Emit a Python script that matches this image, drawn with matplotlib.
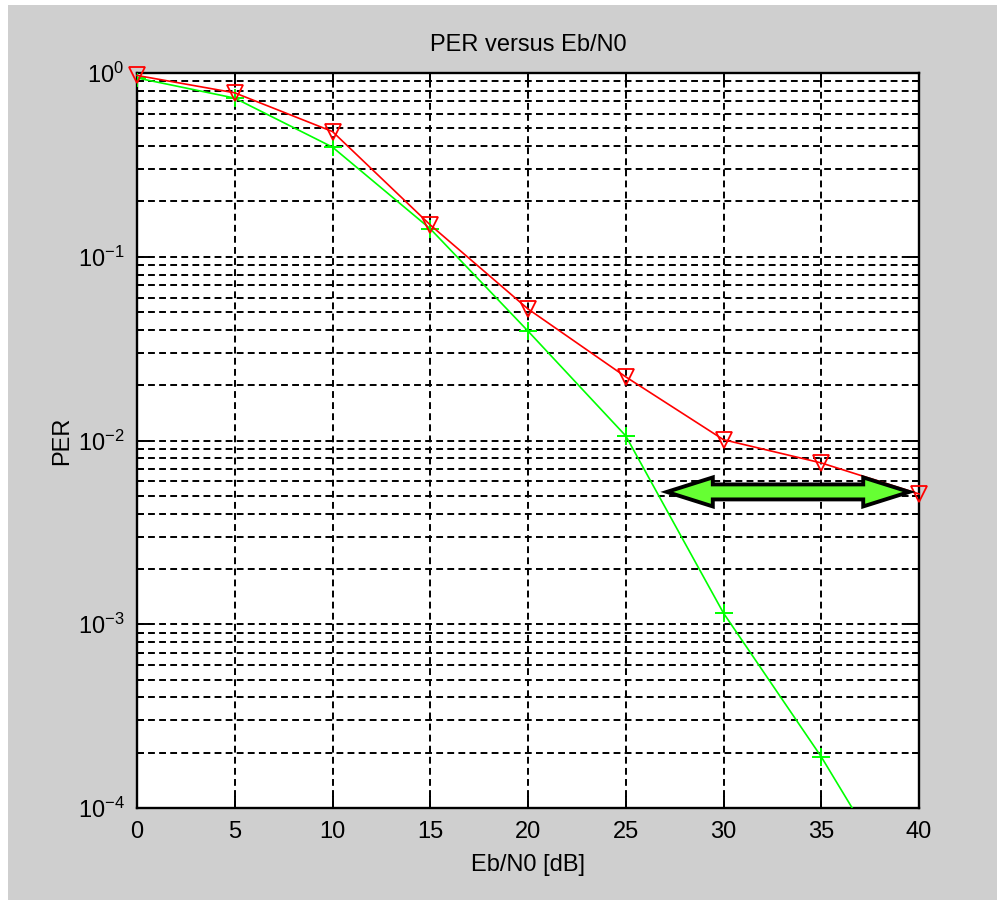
import matplotlib
matplotlib.use('Agg')
import matplotlib.pyplot as plt
from matplotlib.patches import Polygon, Rectangle
from matplotlib.ticker import LogLocator, NullFormatter
import numpy as np

plt.rcParams['font.family'] = ['Liberation Sans', 'DejaVu Sans']
plt.rcParams['mathtext.fontset'] = 'custom'
plt.rcParams['mathtext.rm'] = 'Liberation Sans'
plt.rcParams['mathtext.it'] = 'Liberation Sans'

# data
ebn0 = [0, 5, 10, 15, 20, 25, 30, 35, 40]
per_red = [0.97, 0.78, 0.48, 0.149, 0.052, 0.0222, 0.0101, 0.00755, 0.00512]
per_green = [0.94, 0.73, 0.395, 0.142, 0.0394, 0.0106, 0.00115, 0.00019, 0.000025]
x_ticks = [0, 5, 10, 15, 20, 25, 30, 35, 40]

# double arrow ends (data coords)
arrow_x = [27.1, 39.5]
arrow_y = 0.00525

gray = '#cfcfcf'
fig = plt.figure(figsize=(9.97, 9), dpi=100, facecolor='white')
fig.patches.append(Rectangle((8 / 997, 0), 1, 1 - 5 / 900, transform=fig.transFigure,
                             facecolor=gray, edgecolor='none', zorder=-1))

ax = fig.add_axes([137 / 997, 1 - 808 / 900, (919 - 137) / 997, (808 - 73) / 900])
ax.set_facecolor('white')
ax.set_yscale('log')
ax.set_xlim(0, 40)
ax.set_ylim(1e-4, 1)

ax.plot(ebn0, per_green, color='#00ff00', lw=1.2, marker='+', ms=13, mew=1.4,
        clip_on=True, zorder=3)
ax.plot(ebn0, per_red, color='#ff0000', lw=1.2, marker='v', ms=12, mew=1.3,
        mfc='none', clip_on=False, zorder=4)

ax.set_xticks(x_ticks)
ax.yaxis.set_major_locator(LogLocator(base=10, numticks=10))
ax.yaxis.set_minor_locator(LogLocator(base=10, subs=np.arange(2, 10), numticks=20))
ax.yaxis.set_minor_formatter(NullFormatter())

grid_kw = dict(color='black', lw=1.4, linestyle=(0, (3.5, 2.2)))
ax.grid(True, which='major', axis='both', **grid_kw)
ax.grid(True, which='minor', axis='y', **grid_kw)
ax.set_axisbelow(True)

ax.tick_params(which='both', direction='in', top=True, right=True,
               labelsize=17, colors='black', width=1.4, pad=9)
ax.tick_params(which='major', length=9)
ax.tick_params(which='minor', length=5)
for s in ax.spines.values():
    s.set_linewidth(1.7)
    s.set_color('black')

ax.set_title('PER versus Eb/N0', fontsize=17, pad=16)
ax.set_xlabel('Eb/N0 [dB]', fontsize=17, labelpad=8)
ax.set_ylabel('PER', fontsize=17, labelpad=3)

# green double-headed arrow, shape in pixels
to_ax = ax.transData + ax.transAxes.inverted()
(x0, yc), = to_ax.transform([(arrow_x[0], arrow_y)])
(x1, _), = to_ax.transform([(arrow_x[1], arrow_y)])
w_px, h_px = 782, 735
hl = 46 / w_px
hw = 14.5 / h_px
bw = 7.5 / h_px
pts = [(x0, yc), (x0 + hl, yc + hw), (x0 + hl, yc + bw), (x1 - hl, yc + bw),
       (x1 - hl, yc + hw), (x1, yc), (x1 - hl, yc - hw), (x1 - hl, yc - bw),
       (x0 + hl, yc - bw), (x0 + hl, yc - hw)]
ax.add_patch(Polygon(pts, closed=True, transform=ax.transAxes, facecolor='#66ff33',
                     edgecolor='black', lw=2.8, zorder=5, joinstyle='miter'))

fig.savefig('out.png', dpi=100, facecolor=fig.get_facecolor())
